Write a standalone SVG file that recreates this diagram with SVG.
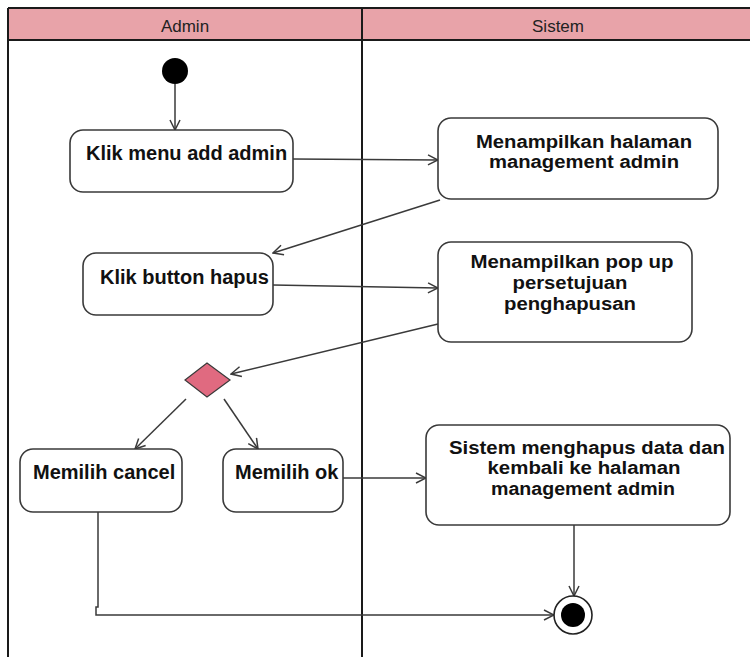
<svg xmlns="http://www.w3.org/2000/svg" width="750" height="657" viewBox="0 0 750 657">
  <style>
    .lane { fill: none; stroke: #1a1a1a; stroke-width: 2; }
    .head { fill: #e8a3a9; }
    .htxt { font-family: "Liberation Sans", Arial, sans-serif; font-size: 17px; fill: #222; text-anchor: middle; }
    .act { fill: #ffffff; stroke: #3a3a3a; stroke-width: 1.6; }
    .lbl { font-family: "Liberation Sans", Arial, sans-serif; font-size: 20px; font-weight: bold; fill: #111; }
    .ml { font-size: 18px; text-anchor: middle; }
    .flow { fill: none; stroke: #3a3a3a; stroke-width: 1.5; }
  </style>
  <defs>
    <marker id="open" viewBox="0 0 12 12" refX="11" refY="6" markerWidth="12" markerHeight="12" markerUnits="userSpaceOnUse" orient="auto">
      <path d="M1,1 L11,6 L1,11" fill="none" stroke="#3a3a3a" stroke-width="1.5"/>
    </marker>
  </defs>

  <rect width="750" height="657" fill="#ffffff"/>

  <!-- swimlanes -->
  <g id="lanes">
    <rect class="head" x="8" y="8" width="742" height="32"/>
    <line class="lane" x1="8" y1="8" x2="750" y2="8"/>
    <line class="lane" x1="8" y1="40" x2="750" y2="40"/>
    <line class="lane" x1="8" y1="8" x2="8" y2="657"/>
    <line class="lane" x1="362" y1="8" x2="362" y2="657"/>
    <text class="htxt" x="185" y="32">Admin</text>
    <text class="htxt" x="558" y="32">Sistem</text>
  </g>

  <!-- connectors -->
  <g id="connectors">
    <path class="flow" d="M175,84 V130" marker-end="url(#open)"/>
    <path class="flow" d="M293,159 L438,160" marker-end="url(#open)"/>
    <path class="flow" d="M440,200 L273,253" marker-end="url(#open)"/>
    <path class="flow" d="M273,285 L438,288" marker-end="url(#open)"/>
    <path class="flow" d="M438,324 L231,374" marker-end="url(#open)"/>
    <path class="flow" d="M186,399 L135,449" marker-end="url(#open)"/>
    <path class="flow" d="M224,399 L258,449" marker-end="url(#open)"/>
    <path class="flow" d="M343,478 L426,478" marker-end="url(#open)"/>
    <path class="flow" d="M574,525 V596" marker-end="url(#open)"/>
    <path class="flow" d="M98,512 V607 H96 V615 H554" marker-end="url(#open)"/>
  </g>

  <!-- start -->
  <g id="start">
    <circle cx="175" cy="71" r="13" fill="#000"/>
  </g>

  <g id="klik-menu">
    <rect class="act" x="70" y="130" width="223" height="62" rx="13"/>
    <text class="lbl" x="86" y="160">Klik menu add admin</text>
  </g>

  <g id="tampil-management">
    <rect class="act" x="438" y="118" width="280" height="81" rx="13"/>
    <text class="lbl ml" x="584" y="147.5" textLength="216" lengthAdjust="spacingAndGlyphs">Menampilkan halaman</text>
    <text class="lbl ml" x="584" y="168" textLength="190" lengthAdjust="spacingAndGlyphs">management admin</text>
  </g>

  <g id="klik-hapus">
    <rect class="act" x="83" y="253" width="190" height="62" rx="13"/>
    <text class="lbl" x="100" y="284">Klik button hapus</text>
  </g>

  <g id="tampil-popup">
    <rect class="act" x="438" y="242" width="254" height="100" rx="13"/>
    <text class="lbl ml" x="572" y="268" textLength="203" lengthAdjust="spacingAndGlyphs">Menampilkan pop up</text>
    <text class="lbl ml" x="570" y="289" textLength="115" lengthAdjust="spacingAndGlyphs">persetujuan</text>
    <text class="lbl ml" x="570" y="310" textLength="132" lengthAdjust="spacingAndGlyphs">penghapusan</text>
  </g>

  <g id="decision">
    <polygon points="185,380 207,363 230,380 207,397" fill="#e06a80" stroke="#3a3a3a" stroke-width="1.2"/>
  </g>

  <g id="pilih-cancel">
    <rect class="act" x="20" y="449" width="162" height="63" rx="13"/>
    <text class="lbl" x="33" y="479">Memilih cancel</text>
  </g>

  <g id="pilih-ok">
    <rect class="act" x="223" y="449" width="120" height="63" rx="13"/>
    <text class="lbl" x="235" y="479">Memilih ok</text>
  </g>

  <g id="hapus-data">
    <rect class="act" x="426" y="425" width="304" height="100" rx="13"/>
    <text class="lbl ml" x="587" y="453.5" textLength="276" lengthAdjust="spacingAndGlyphs">Sistem menghapus data dan</text>
    <text class="lbl ml" x="584" y="474" textLength="193" lengthAdjust="spacingAndGlyphs">kembali ke halaman</text>
    <text class="lbl ml" x="583" y="494.5" textLength="184" lengthAdjust="spacingAndGlyphs">management admin</text>
  </g>

  <!-- end -->
  <g id="end">
    <circle cx="573" cy="615" r="19" fill="#fff" stroke="#222" stroke-width="1.6"/>
    <circle cx="573" cy="615" r="12" fill="#000"/>
  </g>
</svg>
